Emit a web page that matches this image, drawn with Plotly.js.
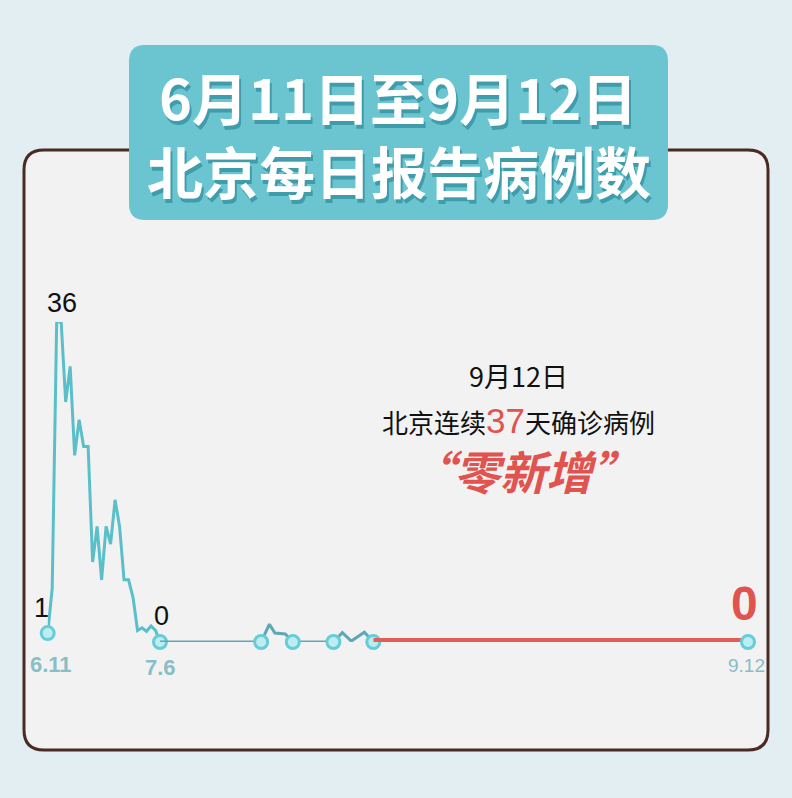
<!DOCTYPE html>
<html>
<head>
<meta charset="utf-8">
<script src="https://cdn.plot.ly/plotly-3.0.1.min.js"></script>
<style>
  html, body { margin: 0; padding: 0; background: #e2eef1; }
  #chart { width: 792px; height: 798px; }
</style>
</head>
<body>
<div id="chart"></div>
<script>
// 6.11 - 7.6, one point per day
const days1 = [0, 1, 2, 3, 4, 5, 6, 7, 8, 9, 10, 11, 12, 13, 14, 15, 16, 17, 18, 19, 20, 21, 22, 23, 24, 25];
const cases1 = [1, 6, 36, 36, 27, 31, 21, 25, 22, 22, 9, 13, 7, 13, 11, 16, 13, 7, 7, 5, 1.3, 1.6, 1.2, 1.8, 1.3, 0];

// 7.6 - start of the zero run (days after 7.6, as drawn)
const days2 = [0, 14.7, 15.9, 16.7, 18.2, 19.3, 25.2, 26.5, 27.8, 29.7, 31];
const cases2 = [0, 0, 2, 1, 0.9, 0, 0, 1.05, 0.1, 1.1, 0];

// 37 days of zero up to 9.12
const days3 = [0, 37];
const cases3 = [0, 0];

const dateLabels = ['6.11', '7.6', '9.12'];
const peakLabel = '36';
const startLabel = '1';

const W = 792, H = 798;
const px = x => x / W;
const py = y => 1 - y / H;

function roundRect(x0, y0, x1, y1, r) {
  const X = v => px(v).toFixed(5), Y = v => py(v).toFixed(5);
  return 'M' + X(x0 + r) + ',' + Y(y0) +
    ' L' + X(x1 - r) + ',' + Y(y0) +
    ' Q' + X(x1) + ',' + Y(y0) + ' ' + X(x1) + ',' + Y(y0 + r) +
    ' L' + X(x1) + ',' + Y(y1 - r) +
    ' Q' + X(x1) + ',' + Y(y1) + ' ' + X(x1 - r) + ',' + Y(y1) +
    ' L' + X(x0 + r) + ',' + Y(y1) +
    ' Q' + X(x0) + ',' + Y(y1) + ' ' + X(x0) + ',' + Y(y1 - r) +
    ' L' + X(x0) + ',' + Y(y0 + r) +
    ' Q' + X(x0) + ',' + Y(y0) + ' ' + X(x0 + r) + ',' + Y(y0) + ' Z';
}

const endMarkers = n => days => days.map((d, i) => (n.includes(i) ? 13 : 0));

const markerStyle = sizes => ({
  size: sizes,
  color: '#bdedf1',
  opacity: 1,
  line: { color: '#66cdd8', width: 3 },
});

const traces = [
  {
    x: days3, y: cases3, xaxis: 'x3', yaxis: 'y',
    type: 'scatter', mode: 'lines+markers', cliponaxis: false,
    line: { color: '#e35d57', width: 8 },
    marker: markerStyle([0, 13]),
    hoverinfo: 'skip',
  },
  {
    x: days2, y: cases2, xaxis: 'x2', yaxis: 'y',
    type: 'scatter', mode: 'lines+markers', cliponaxis: false,
    line: { color: '#5ea7b6', width: 3 },
    marker: markerStyle(endMarkers([1, 5, 6, 10])(days2)),
    hoverinfo: 'skip',
  },
  {
    x: days1, y: cases1, xaxis: 'x', yaxis: 'y',
    type: 'scatter', mode: 'lines+markers', cliponaxis: false,
    line: { color: '#5bbfca', width: 3 },
    marker: markerStyle(endMarkers([0, days1.length - 1])(days1)),
    hoverinfo: 'skip',
  },
];

const num = 'Liberation Sans, Arial, sans-serif';
const cjk = 'Noto Sans CJK SC, sans-serif';

function lab(text, xref, x, y, dx, dy, font) {
  return { text, xref, yref: 'y', x, y, xshift: dx, yshift: dy,
    showarrow: false, xanchor: 'center', yanchor: 'middle', font };
}

function note(text, x, y, font) {
  return { text, xref: 'paper', yref: 'paper', x: px(x), y: py(y),
    showarrow: false, xanchor: 'center', yanchor: 'middle', font };
}

const last1 = days1.length - 1;
const last3 = days3.length - 1;
const titleFont = { family: cjk, size: 56, color: '#ffffff', weight: 'bold', shadow: '2px 4px 0px #3f9cab' };

const annotations = [
  lab(startLabel, 'x', days1[0], cases1[0], -6, 25, { family: num, size: 27, color: '#111' }),
  lab(peakLabel, 'x', (days1[2] + days1[3]) / 2, 36, 3, 19, { family: num, size: 27, color: '#111' }),
  lab(String(cases1[last1]), 'x', days1[last1], cases1[last1], 1, 26, { family: num, size: 27, color: '#111' }),
  lab(String(cases3[last3]), 'x3', days3[last3], cases3[last3], -4, 39,
    { family: num, size: 48, color: '#e0534e', weight: 'bold' }),
  lab(dateLabels[0], 'x', days1[0], 0, 3, -22, { family: num, size: 22, color: '#88bfc6', weight: 'bold' }),
  lab(dateLabels[1], 'x', days1[last1], 0, 0, -25, { family: num, size: 22, color: '#88bfc6', weight: 'bold' }),
  lab(dateLabels[2], 'x3', days3[last3], 0, -2, -23, { family: num, size: 19, color: '#88bcc7' }),
  note('9月12日', 518, 375, { family: cjk, size: 27, color: '#111' }),
  note('北京连续<span style="color:#e0534e;font-size:35px;font-family:Liberation Sans, Arial, sans-serif">37</span>天确诊病例',
    518, 420, { family: cjk, size: 26, color: '#111' }),
  note('“零新增”', 523, 470, { family: cjk, size: 46, color: '#e0534e', weight: 'bold', style: 'italic' }),
  note('6月11日至9月12日', 398, 95, titleFont),
  note('北京每日报告病例数', 399, 170, titleFont),
];

const shapes = [
  {
    type: 'path', xref: 'paper', yref: 'paper', layer: 'below',
    path: roundRect(24, 150, 768, 750, 20),
    fillcolor: '#f2f2f2', line: { color: '#4a2a22', width: 3 },
  },
  {
    type: 'path', xref: 'paper', yref: 'paper', layer: 'below',
    path: roundRect(129, 45, 668, 220, 16),
    fillcolor: '#6bc5d0', line: { width: 0 },
  },
];

const hidden = { visible: false, fixedrange: true };

const layout = {
  width: W, height: H,
  margin: { l: 0, r: 0, t: 0, b: 0 },
  paper_bgcolor: '#e2eef1',
  plot_bgcolor: 'rgba(0,0,0,0)',
  showlegend: false,
  xaxis: { ...hidden, domain: [px(47.7), px(160)], range: [0, days1[last1]], anchor: 'y' },
  xaxis2: { ...hidden, domain: [px(160), px(373.3)], range: [0, days2[days2.length - 1]], anchor: 'y' },
  xaxis3: { ...hidden, domain: [px(373.3), px(748)], range: [0, days3[last3]], anchor: 'y' },
  yaxis: { ...hidden, domain: [py(642), py(322)], range: [0, 36], anchor: 'x' },
  shapes,
  annotations,
};

Plotly.newPlot('chart', traces, layout, { staticPlot: true, displayModeBar: false });
</script>
</body>
</html>
